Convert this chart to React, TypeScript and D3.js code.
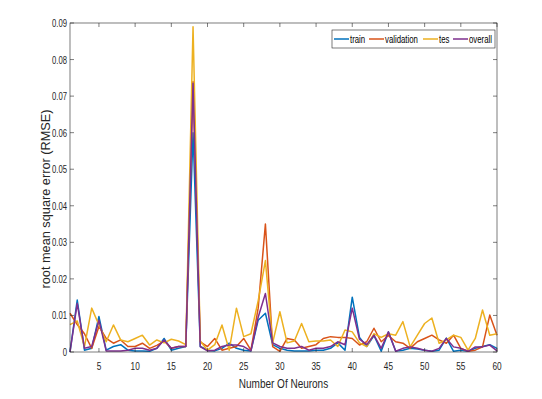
import React, { useEffect, useRef } from 'react';
import * as d3 from 'd3';

// number of neurons tested, 1..60
const neurons = d3.range(1, 61);

const train = [
  0, 0.0142, 0.0005, 0.001, 0.0097, 0.0005, 0.0015, 0.002, 0.0005, 0.0003,
  0.0003, 0.0002, 0.001, 0.0037, 0.0005, 0.001, 0.0015, 0.06, 0.0015, 0.0005,
  0.0003, 0.001, 0.0024, 0.001, 0.0005, 0.0003, 0.0087, 0.0106, 0.002, 0.001,
  0.0005, 0.0003, 0.0003, 0.0003, 0.0005, 0.0005, 0.001, 0.0025, 0.0005, 0.015,
  0.004, 0.0015, 0.0045, 0.0002, 0.0055, 0.0003, 0.0005, 0.001, 0.0008, 0.0005,
  0.0002, 0.0005, 0.0038, 0.0002, 0.0005, 0.0002, 0.001, 0.0015, 0.002, 0.001,
];

const validation = [
  0.0106, 0.0075, 0.005, 0.001, 0.007, 0.0037, 0.0024, 0.0033, 0.0015, 0.0015,
  0.0024, 0.001, 0.0018, 0.003, 0.001, 0.0015, 0.0015, 0.074, 0.0028, 0.0015,
  0.0037, 0.0005, 0.001, 0.0015, 0.0037, 0.0005, 0.012, 0.035, 0.0015, 0.0002,
  0.0037, 0.0033, 0.001, 0.0015, 0.002, 0.0037, 0.0042, 0.004, 0.004, 0.0037,
  0.0019, 0.0028, 0.0065, 0.0028, 0.0045, 0.0028, 0.0024, 0.001, 0.0028, 0.0037,
  0.0046, 0.0033, 0.0024, 0.0046, 0.001, 0.0002, 0.0005, 0.0014, 0.0101, 0.0046,
];

const tes = [
  0.0075, 0.0085, 0.0015, 0.012, 0.0074, 0.0028, 0.0074, 0.0033, 0.0028, 0.0037,
  0.0046, 0.0019, 0.0033, 0.0025, 0.0035, 0.003, 0.002, 0.089, 0.003, 0.0005,
  0.002, 0.0074, 0.0005, 0.012, 0.0042, 0.005, 0.014, 0.025, 0.0025, 0.011,
  0.0025, 0.003, 0.0078, 0.0028, 0.003, 0.003, 0.0033, 0.0015, 0.006, 0.0055,
  0.0025, 0.0015, 0.005, 0.004, 0.005, 0.0046, 0.0083, 0.0014, 0.0046, 0.0078,
  0.0093, 0.0024, 0.0033, 0.0046, 0.004, 0.0005, 0.0037, 0.0115, 0.0046, 0.005,
];

const overall = [
  0, 0.0133, 0.001, 0.0015, 0.0087, 0.0003, 0.0003, 0.0003, 0.0005, 0.001,
  0.001, 0.0005, 0.001, 0.0033, 0.001, 0.0015, 0.0015, 0.0735, 0.0015, 0.0003,
  0.0005, 0.0015, 0.0019, 0.0019, 0.0015, 0.0003, 0.0095, 0.016, 0.0025, 0.0015,
  0.001, 0.001, 0.0015, 0.0005, 0.001, 0.001, 0.0015, 0.0028, 0.002, 0.012,
  0.0035, 0.002, 0.0046, 0.001, 0.0055, 0.0002, 0.001, 0.0014, 0.001, 0.0005,
  0.0002, 0.001, 0.0037, 0.0014, 0.001, 0.0002, 0.0014, 0.0014, 0.0019, 0.0003,
];

const seriesNames = ['train', 'validation', 'tes', 'overall'];
const seriesColors = ['#0072BD', '#D95319', '#EDB120', '#7E2F8E'];
const xTicks = [5, 10, 15, 20, 25, 30, 35, 40, 45, 50, 55, 60];
const yTicks = [0, 0.01, 0.02, 0.03, 0.04, 0.05, 0.06, 0.07, 0.08, 0.09];

const App = () => {
  const ref = useRef<SVGSVGElement>(null);

  useEffect(() => {
    const width = 542;
    const height = 399;
    const m = { left: 70, right: 45, top: 23, bottom: 47 };
    const font = 'Liberation Sans, Arial, sans-serif';
    const axisColor = '#262626';

    const svg = d3.select(ref.current);
    svg.selectAll('*').remove();
    svg.attr('width', width).attr('height', height);

    svg.append('rect').attr('width', width).attr('height', height).attr('fill', '#fff');

    const x = d3.scaleLinear().domain([1, 60]).range([m.left, width - m.right]);
    const y = d3.scaleLinear().domain([0, 0.09]).range([height - m.bottom, m.top]);

    const g = svg.append('g');

    // narrow text, the original font is condensed
    const label = (px: number, py: number, str: string, size: number, anchor: string, sx = 0.8, rot = 0) =>
      g.append('text')
        .attr('transform', `translate(${px},${py}) rotate(${rot}) scale(${sx},1)`)
        .attr('text-anchor', anchor)
        .attr('font-family', font)
        .attr('font-size', size)
        .attr('fill', axisColor)
        .text(str);

    // lines
    const all = [train, validation, tes, overall];
    const line = d3
      .line<number>()
      .x((_, i) => x(neurons[i]))
      .y((d) => y(d));

    all.forEach((vals, i) => {
      g.append('path')
        .datum(vals)
        .attr('d', line)
        .attr('fill', 'none')
        .attr('stroke', seriesColors[i])
        .attr('stroke-width', 1.5)
        .attr('stroke-linejoin', 'round');
    });

    // box
    const x0 = x(1), x1 = x(60), y0 = y(0), y1 = y(0.09);
    g.append('rect')
      .attr('x', x0).attr('y', y1)
      .attr('width', x1 - x0).attr('height', y0 - y1)
      .attr('fill', 'none').attr('stroke', axisColor).attr('stroke-width', 0.6);

    const tl = 4;
    xTicks.forEach((t) => {
      g.append('line').attr('x1', x(t)).attr('x2', x(t)).attr('y1', y0).attr('y2', y0 - tl)
        .attr('stroke', axisColor).attr('stroke-width', 0.6);
      g.append('line').attr('x1', x(t)).attr('x2', x(t)).attr('y1', y1).attr('y2', y1 + tl)
        .attr('stroke', axisColor).attr('stroke-width', 0.6);
      label(x(t), y0 + 18, String(t), 11, 'middle', 0.75);
    });
    yTicks.forEach((t) => {
      g.append('line').attr('x1', x0).attr('x2', x0 + tl).attr('y1', y(t)).attr('y2', y(t))
        .attr('stroke', axisColor).attr('stroke-width', 0.6);
      g.append('line').attr('x1', x1).attr('x2', x1 - tl).attr('y1', y(t)).attr('y2', y(t))
        .attr('stroke', axisColor).attr('stroke-width', 0.6);
      label(x0 - 3, y(t) + 4, t === 0 ? '0' : d3.format('.2f')(t), 11, 'end', 0.7);
    });

    // axis labels
    label((x0 + x1) / 2, 388, 'Number Of Neurons', 12.5, 'middle');
    label(50, 199, 'root mean square error (RMSE)', 12.5, 'middle', 1.02, -90);

    // legend
    g.append('rect').attr('x', 332).attr('y', 30).attr('width', 163).attr('height', 18)
      .attr('fill', '#fff').attr('stroke', axisColor).attr('stroke-width', 0.6);
    const legendX = [333, 368, 422, 452];
    seriesNames.forEach((name, i) => {
      g.append('line').attr('x1', legendX[i] + 1).attr('x2', legendX[i] + 16)
        .attr('y1', 39).attr('y2', 39)
        .attr('stroke', seriesColors[i]).attr('stroke-width', 1.5);
      label(legendX[i] + 17, 42.5, name, 10, 'start', 0.78).attr('fill', '#000');
    });
  }, []);

  return <svg ref={ref} style={{ position: 'absolute', left: 0, top: 0 }} />;
};

export default App;
